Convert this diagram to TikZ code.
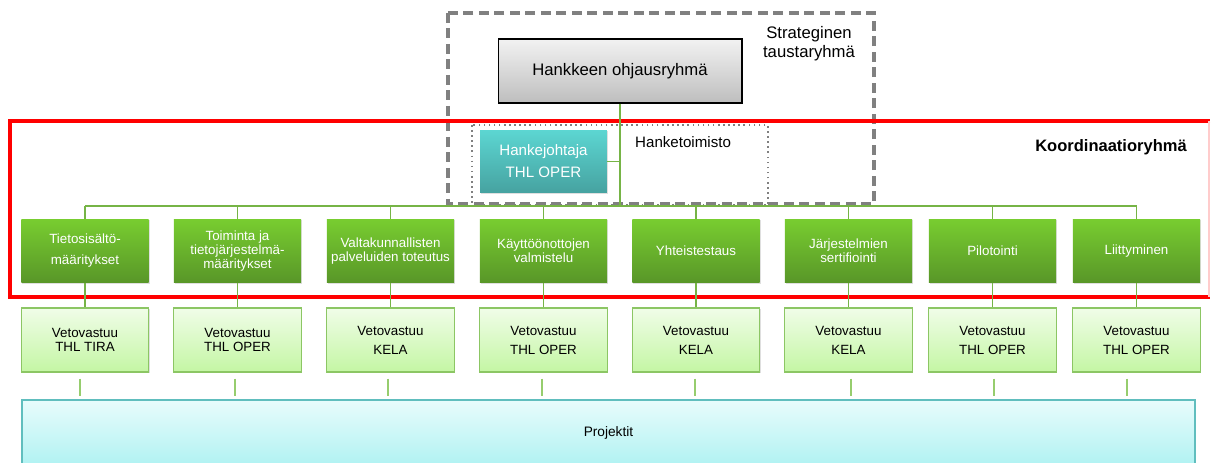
\documentclass[tikz,border=0pt]{standalone}
\usepackage{fontspec}
\setmainfont{Liberation Sans}
\usetikzlibrary{shadows}

\definecolor{cor_vihrea1}{RGB}{120,205,48}
\definecolor{cor_vihrea2}{RGB}{88,150,40}
\definecolor{cor_vaalea1}{RGB}{240,253,232}
\definecolor{cor_vaalea2}{RGB}{196,246,164}
\definecolor{cor_reuna}{RGB}{140,198,100}
\definecolor{cor_viiva}{RGB}{118,180,70}
\definecolor{cor_tynka}{RGB}{150,205,110}
\definecolor{cor_turkoosi1}{RGB}{92,214,210}
\definecolor{cor_turkoosi2}{RGB}{70,162,160}
\definecolor{cor_syaani1}{RGB}{232,252,252}
\definecolor{cor_syaani2}{RGB}{176,242,242}
\definecolor{cor_syaanireuna}{RGB}{96,190,190}
\definecolor{cor_harmaa}{RGB}{128,128,128}
\definecolor{cor_ohjaus1}{RGB}{242,242,242}
\definecolor{cor_ohjaus2}{RGB}{190,190,190}

\begin{document}
\begin{tikzpicture}[x=0.02cm, y=-0.02cm]
        \tikzset{
            laatikko/.style={
                minimum width=2.55cm,
                minimum height=1.28cm,
                inner sep=1pt,
                align=center,
                drop shadow={opacity=0.25, shadow xshift=0.6pt, shadow yshift=-0.8pt}
            },
            teema/.style={
                laatikko,
                top color=cor_vihrea1,
                bottom color=cor_vihrea2,
                text=white,
                font=\fontsize{7.6}{8}\selectfont
            },
            vastuu/.style={
                laatikko,
                draw=cor_reuna,
                line width=0.8pt,
                top color=cor_vaalea1,
                bottom color=cor_vaalea2,
                font=\fontsize{7.6}{8}\selectfont
            },
            viiva/.style={draw=cor_viiva, line width=0.6pt},
            tynka/.style={draw=cor_tynka, line width=1.1pt}
        }
        \clip (0,0) rectangle (1211,463);

        \coordinate (vayla) at (620,206);

        %TAUSTARYHMA
        \draw[cor_harmaa, line width=2.2pt, dash pattern=on 0.2cm off 0.11cm] (448,13) rectangle (874,204);
        \node[laatikko, draw=black, line width=0.6pt, top color=cor_ohjaus1, bottom color=cor_ohjaus2,
              minimum width=4.88cm, font=\fontsize{9.5}{11}\selectfont] (ohjaus) at (620,71) {Hankkeen ohjausryhmä};
        \node[align=center, font=\fontsize{9.5}{11}\selectfont] (strateginen) at (809,44) {Strateginen\\taustaryhmä};

        %KOORDINAATIORYHMA
        \draw[red, line width=2.3pt] (1210,121) -- (10,121) -- (10,297) -- (1210,297);
        \draw[red!20, line width=0.6pt] (1209,121) -- (1209,297);
        \node[font=\fontsize{9.4}{11}\selectfont\bfseries] (koord) at (1111,147) {Koordinaatioryhmä};

        %HANKETOIMISTO
        \draw[cor_harmaa, dotted, line width=0.9pt] (472,125) rectangle (768,205);
        \node[laatikko, minimum width=2.54cm, minimum height=1.26cm, top color=cor_turkoosi1,
              bottom color=cor_turkoosi2, text=white, font=\fontsize{8.6}{10}\selectfont] (johtaja) at (543.5,161.5) {Hankejohtaja\\[2.5pt]THL OPER};
        \node[anchor=west, font=\fontsize{8.6}{10}\selectfont] (toimisto) at (629,142) {Hanketoimisto};

        %PROJEKTIT
        \node[draw=cor_syaanireuna, line width=0.8pt, top color=cor_syaani1, bottom color=cor_syaani2,
              minimum width=23.46cm, minimum height=1.32cm, font=\fontsize{7.8}{9}\selectfont] (projektit) at (608.5,433) {Projektit};

        \foreach \i/\x/\d/\teksti/\vastaava in {
            1/85/-5/{Tietosisältö-\\[4pt]määritykset}/{Vetovastuu\\THL TIRA},
            2/237.5/-2.5/{Toiminta ja\\tietojärjestelmä-\\määritykset}/{Vetovastuu\\THL OPER},
            3/390.5/-2.5/{Valtakunnallisten\\palveluiden toteutus}/{Vetovastuu\\[2.8pt]KELA},
            4/543.5/-1.5/{Käyttöönottojen\\valmistelu}/{Vetovastuu\\[2.8pt]THL OPER},
            5/696/-1/{Yhteistestaus}/{Vetovastuu\\[2.8pt]KELA},
            6/848.5/2.5/{Järjestelmien\\sertifiointi}/{Vetovastuu\\[2.8pt]KELA},
            7/992.5/1.5/{Pilotointi}/{Vetovastuu\\[2.8pt]THL OPER},
            8/1136.5/-9.5/{Liittyminen}/{Vetovastuu\\[2.8pt]THL OPER}} { %LAATIKOT
            \node[teema] (t\i) at (\x,251) {\teksti};
            \node[vastuu] (v\i) at (\x,340) {\vastaava};
            \draw[viiva] (t\i.north) -- (t\i.north |- vayla);
            \draw[viiva] (t\i.south) -- (v\i.north);
            \draw[tynka, shorten <=0.12cm, shorten >=0.06cm] ([xshift=\d*0.02cm]v\i.south) -- ([xshift=\d*0.02cm]v\i.south |- projektit.north);
        }

        \draw[viiva] (t1.north |- vayla) -- (t8.north |- vayla);
        \draw[viiva] (ohjaus.south) -- (vayla);
        \draw[viiva] (johtaja.east) -- (johtaja.east -| vayla);

    \end{tikzpicture}
\end{document}
